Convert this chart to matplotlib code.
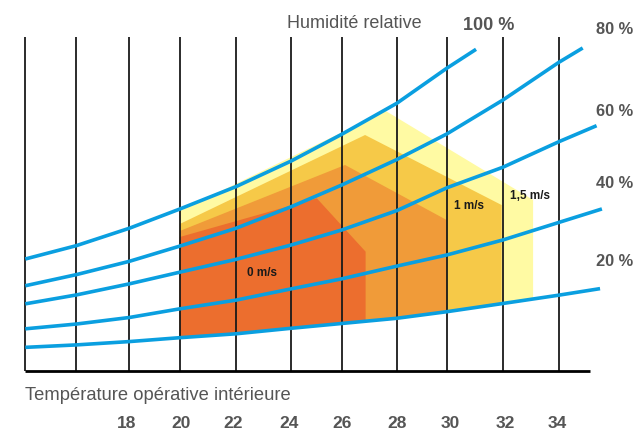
import numpy as np
import matplotlib
matplotlib.use("Agg")
import matplotlib.pyplot as plt
from matplotlib.patches import Polygon

plt.rcParams['font.family'] = ['Liberation Sans', 'DejaVu Sans']

# ---------------- data ----------------
# positions of the temperature grid lines as drawn in the chart (°C, 14 ... 34)
grid_T = [14.0, 15.91, 17.90, 19.79, 21.89, 23.97, 25.86, 27.93, 29.80, 31.90, 34.0]
tick_T = [17.78, 19.84, 21.79, 23.89, 25.88, 27.94, 29.93, 31.99, 33.94]
tick_labels = ["18", "20", "22", "24", "26", "28", "30", "32", "34"]

# humidity curves: temperature (°C) / humidity ratio (g/kg), read on the grid lines
rh100_T = [14.0, 15.91, 17.90, 19.79, 21.89, 23.97, 25.86, 27.93, 29.80, 30.90]
rh100_w = [10.09, 11.29, 12.86, 14.59, 16.60, 18.92, 21.32, 24.12, 27.27, 28.98]
rh80_T = [14.0, 15.91, 17.90, 19.79, 21.89, 23.97, 25.86, 27.93, 29.80, 31.90, 34.0, 34.90]
rh80_w = [7.68, 8.68, 9.88, 11.25, 12.85, 14.80, 16.75, 19.05, 21.35, 24.4, 27.8, 29.1]
rh60_T = [14.0, 15.91, 17.90, 19.79, 21.89, 23.97, 25.86, 27.93, 29.80, 31.90, 34.0, 35.42]
rh60_w = [6.05, 6.85, 7.85, 8.90, 10.05, 11.35, 12.70, 14.45, 16.5, 18.35, 20.65, 22.1]
rh40_T = [14.0, 15.91, 17.90, 19.79, 21.89, 23.97, 25.86, 27.93, 29.80, 31.90, 34.0, 35.62]
rh40_w = [3.80, 4.23, 4.82, 5.60, 6.38, 7.40, 8.30, 9.45, 10.45, 11.8, 13.38, 14.6]
rh20_T = [14.0, 15.91, 17.90, 19.79, 21.89, 23.97, 25.86, 27.93, 29.80, 31.90, 34.0, 35.55]
rh20_w = [2.13, 2.35, 2.65, 3.0, 3.35, 3.85, 4.28, 4.75, 5.34, 6.08, 6.83, 7.42]
rh_labels = ["100 %", "80 %", "60 %", "40 %", "20 %"]

# comfort zones (top outline), bottom follows the 20 % curve
zone15_T = [19.79, 27.52, 33.04]
zone15_w = [14.41, 23.42, 15.41]
zone10_T = [19.79, 26.74, 31.86]
zone10_w = [13.24, 21.26, 14.95]
zone05_T = [19.79, 25.99, 29.80]
zone05_w = [12.61, 18.56, 13.60]
zone00_T = [19.79, 24.93, 26.76]
zone00_w = [12.07, 15.56, 10.75]
speed_labels = ["0 m/s", "1 m/s", "1,5 m/s"]

W, H = 636, 434
fig = plt.figure(figsize=(W / 100, H / 100), dpi=100)
ax = fig.add_axes([0, 0, 1, 1])
ax.set_xlim(13.051, 36.898)
ax.set_ylim(-5.676, 33.423)
ax.axis('off')

def zone_poly(tT, tw):
    xl, xr = tT[0], tT[-1]
    inner = [(t, w) for t, w in zip(rh20_T, rh20_w) if xl < t < xr]
    bottom = [(xr, np.interp(xr, rh20_T, rh20_w))] + inner[::-1] + [(xl, np.interp(xl, rh20_T, rh20_w))]
    return list(zip(tT, tw)) + bottom

zones = [(zone15_T, zone15_w, '#FFFAA3'),
         (zone10_T, zone10_w, '#F6C948'),
         (zone05_T, zone05_w, '#F09B39'),
         (zone00_T, zone00_w, '#EC6E2E')]
for tT, tw, c in zones:
    ax.add_patch(Polygon(zone_poly(tT, tw), closed=True, facecolor=c, edgecolor='none', zorder=1))

# grid lines
ax.vlines(grid_T, 0, 30.09, colors='#1a1a1a', linewidth=1.3, zorder=2)
ax.hlines(0, grid_T[0], 35.17, colors='#000000', linewidth=2.0, zorder=2)

blue = '#0A9FE0'
for tT, tw in [(rh100_T, rh100_w), (rh80_T, rh80_w), (rh60_T, rh60_w),
               (rh40_T, rh40_w), (rh20_T, rh20_w)]:
    ax.plot(tT, tw, color=blue, linewidth=2.6, solid_capstyle='butt',
            solid_joinstyle='round', zorder=3)

def ftext(px, py, s, **kw):
    fig.text(px / W, 1 - py / H, s, **kw)

gray = '#555555'
ftext(287, 23, "Humidité relative", fontsize=13, color=gray, va='center', ha='left')
ftext(463, 25, rh_labels[0], fontsize=13, color=gray, fontweight='bold', va='center', ha='left')
for py, lab in zip([29, 111, 184, 261], rh_labels[1:]):
    ftext(596, py, lab, fontsize=11.8, color=gray, fontweight='bold', va='center', ha='left')
ftext(25, 395, "Température opérative intérieure", fontsize=13.2, color=gray, va='center', ha='left')

ytick = -(424 - 371) / 11.1
for t, lab in zip(tick_T, tick_labels):
    ax.text(t, ytick, lab, fontsize=12.5, color=gray, fontweight='bold',
            ha='center', va='center', zorder=4)

ftext(262, 273.5, speed_labels[0], fontsize=8.5, color='#1a1a1a', fontweight='bold', ha='center', va='center')
ftext(468.7, 206.3, speed_labels[1], fontsize=8.5, color='#1a1a1a', fontweight='bold', ha='center', va='center')
ftext(530.3, 196.2, speed_labels[2], fontsize=8.5, color='#1a1a1a', fontweight='bold', ha='center', va='center')

fig.savefig("out.png", dpi=100, facecolor='white')
